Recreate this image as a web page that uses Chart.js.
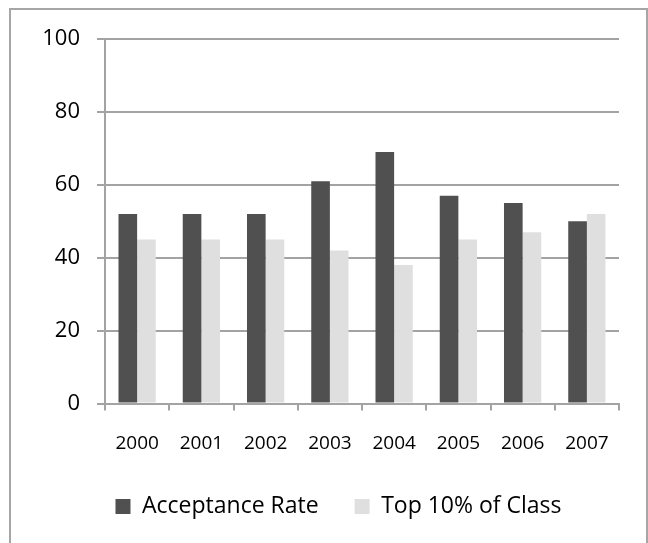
<!DOCTYPE html>
<html>
<head>
<meta charset="utf-8">
<script src="https://cdn.jsdelivr.net/npm/chart.js@4/dist/chart.umd.min.js"></script>
<style>
  html, body { margin: 0; padding: 0; background: #fff; }
  #wrap { position: relative; width: 648px; height: 543px; overflow: hidden; }
  #frame { position: absolute; left: 9px; top: 8px; width: 639px; height: 540px; box-sizing: border-box;
           border: 2px solid #a6a6a6; border-bottom: none; }
  canvas { position: absolute; left: 0; top: 0; }
</style>
</head>
<body>
<div id="wrap">
  <div id="frame"></div>
  <canvas id="c" width="648" height="543"></canvas>
</div>
<script>
const categories = ['2000', '2001', '2002', '2003', '2004', '2005', '2006', '2007'];
const acceptanceRate = [52, 52, 52, 61, 69, 57, 55, 50];
const top10OfClass = [45, 45, 45, 42, 38, 45, 47, 52];
const seriesNames = ['Acceptance Rate', 'Top 10% of Class'];
const yTicks = [0, 20, 40, 60, 80, 100];

const GRID = '#a3a3a3';
const FONT = "'Open Sans', 'Noto Sans', sans-serif";

const legendShift = {
  id: 'legendShift',
  afterLayout(chart) {
    if (chart.legend) { chart.legend.left += 11; chart.legend.right += 11; }
  }
};

new Chart(document.getElementById('c'), {
  type: 'bar',
  data: {
    labels: categories,
    datasets: [
      { label: seriesNames[0], data: acceptanceRate, backgroundColor: '#505050', borderWidth: 0,
        categoryPercentage: 0.58, barPercentage: 1.0 },
      { label: seriesNames[1], data: top10OfClass, backgroundColor: '#dfdfdf', borderWidth: 0,
        categoryPercentage: 0.58, barPercentage: 1.0 }
    ]
  },
  plugins: [legendShift],
  options: {
    responsive: false,
    animation: false,
    devicePixelRatio: 1,
    layout: { padding: { left: 36, right: 29, top: 39, bottom: 15 } },
    plugins: {
      tooltip: { enabled: false },
      title: { display: false },
      legend: {
        position: 'bottom',
        labels: {
          boxWidth: 15, boxHeight: 15, padding: 36, color: '#000',
          font: { family: FONT, size: 23 }
        }
      }
    },
    scales: {
      x: {
        grid: { display: true, drawOnChartArea: false, drawTicks: true, tickLength: 7,
                color: GRID, lineWidth: 2, offset: true },
        border: { display: true, color: GRID, width: 2 },
        ticks: { color: '#000', font: { family: FONT, size: 19 }, padding: 22, maxRotation: 0 },
        afterFit: (s) => { s.height = 55.5; }
      },
      y: {
        min: 0, max: 100,
        afterBuildTicks: (s) => { s.ticks = yTicks.map(v => ({ value: v })); },
        grid: { color: GRID, lineWidth: 2, tickLength: 8, drawTicks: true },
        border: { display: true, color: GRID, width: 2 },
        ticks: { color: '#000', font: { family: FONT, size: 22 }, padding: 17 },
        afterFit: (s) => { s.width = 69; }
      }
    }
  }
});
</script>
</body>
</html>
